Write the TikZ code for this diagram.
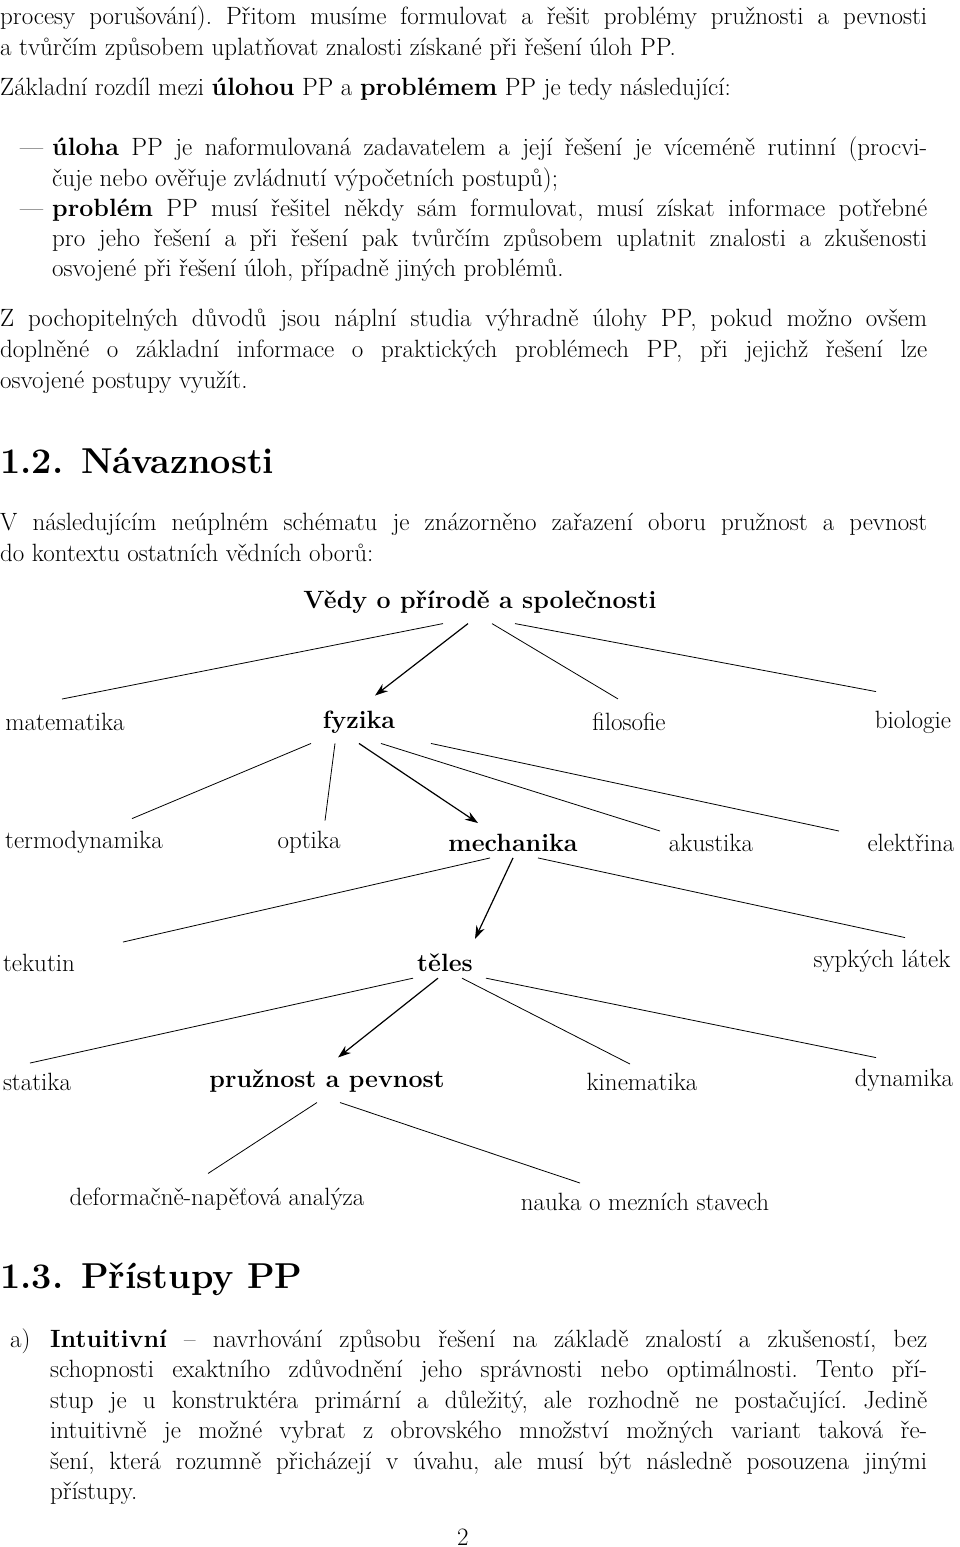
\documentclass[tikz,border=0pt]{standalone}
\usepackage{fontspec}
\usetikzlibrary{arrows.meta}
\frenchspacing
\begin{document}
\begin{tikzpicture}[x=1pt,y=-1pt]
% font and line sizes
\def\fs{\fontsize{25}{31}\selectfont}
% styles
\tikzset{
	line/.style = {anchor=base west, inner sep=0pt, font=\fs},
	obor/.style = {inner sep=2pt, font=\fs},
	hlavni/.style = {obor, font=\fs\bfseries},
	vazba/.style = {line width=0.8pt},
	cesta/.style = {line width=1.2pt, -{Stealth[length=13pt,width=9pt]}}
}
% justified line and plain line
\newcommand{\jl}[5]{\node[line] (#1) at (#2,#3) {\makebox[#4pt][s]{#5}};}
\newcommand{\pl}[4]{\node[line] (#1) at (#2,#3) {#4};}
\useasboundingbox (0,0) rectangle (960,1547);

\jl{t1}{0}{24}{927}{procesy porušování). Přitom musíme formulovat a řešit problémy pružnosti a pevnosti}
\pl{t2}{0}{55}{a tvůrčím způsobem uplatňovat znalosti získané při řešení úloh PP.}
\pl{t3}{0}{95}{Základní rozdíl mezi \textbf{úlohou} PP a \textbf{problémem} PP je tedy následující:}
\pl{d1}{20}{155}{---}
\jl{b1}{52}{155}{875}{\textbf{úloha} PP je naformulovaná zadavatelem a její řešení je víceméně rutinní (procvi-}
\pl{b2}{52}{186}{čuje nebo ověřuje zvládnutí výpočetních postupů);}
\pl{d2}{20}{216}{---}
\jl{b3}{52}{216}{875}{\textbf{problém} PP musí řešitel někdy sám formulovat, musí získat informace potřebné}
\jl{b4}{52}{246}{875}{pro jeho řešení a při řešení pak tvůrčím způsobem uplatnit znalosti a zkušenosti}
\pl{b5}{52}{276}{osvojené při řešení úloh, případně jiných problémů.}
\jl{p1}{0}{326}{927}{Z pochopitelných důvodů jsou náplní studia výhradně úlohy PP, pokud možno ovšem}
\jl{p2}{0}{357}{927}{doplněné o základní informace o praktických problémech PP, při jejichž řešení lze}
\pl{p3}{0}{388}{osvojené postupy využít.}
\node[line,font=\fontsize{36}{40}\selectfont\bfseries] (h12) at (0,473) {1.2.\enspace Návaznosti};
\jl{v1}{0}{530}{927}{V následujícím neúplném schématu je znázorněno zařazení oboru pružnost a pevnost}
\pl{v2}{0}{561}{do kontextu ostatních vědních oborů:}

% schema
\node[hlavni] (vedy) at (480,602) {Vědy o přírodě a společnosti};
\node[obor] (mat) at (65,722) {matematika};
\node[hlavni] (fyz) at (359,722) {fyzika};
\node[obor] (fil) at (629,722) {filosofie};
\node[obor] (bio) at (913,722) {biologie};
\node[obor] (ter) at (84,842) {termodynamika};
\node[obor] (opt) at (309,842) {optika};
\node[hlavni] (mech) at (513,843) {mechanika};
\node[obor] (aku) at (711,843) {akustika};
\node[obor] (ele) at (911,843) {elektřina};
\node[obor] (tek) at (39,963) {tekutin};
\node[hlavni] (tel) at (445,963) {těles};
\node[obor] (syp) at (882,961) {sypkých látek};
\node[obor] (sta) at (37,1082) {statika};
\node[hlavni] (pp) at (327,1081) {pružnost a pevnost};
\node[obor] (kin) at (642,1082) {kinematika};
\node[obor] (dyn) at (904,1080) {dynamika};
\node[obor] (def) at (217,1199) {deformačně-napěťová analýza};
\node[obor] (nau) at (645,1202) {nauka o mezních stavech};

\draw[vazba] ([xshift=-37pt,yshift=-8pt]vedy.south) -- ([xshift=-3pt,yshift=12pt]mat.north);
\draw[cesta] ([xshift=-12pt,yshift=-8pt]vedy.south) -- ([xshift=16pt,yshift=13pt]fyz.north);
\draw[vazba] ([xshift=12pt,yshift=-8pt]vedy.south) -- ([xshift=-11pt,yshift=12pt]fil.north);
\draw[vazba] ([xshift=35pt,yshift=-8pt]vedy.south) -- ([xshift=-37pt,yshift=17pt]bio.north);

\draw[vazba] ([xshift=-48pt,yshift=-8pt]fyz.south) -- ([xshift=48pt,yshift=10pt]ter.north);
\draw[vazba] ([xshift=-24pt,yshift=-8pt]fyz.south) -- ([xshift=16pt,yshift=8pt]opt.north);
\draw[cesta] ([xshift=0pt,yshift=-8pt]fyz.south) -- ([xshift=-35pt,yshift=9pt]mech.north);
\draw[vazba] ([xshift=22pt,yshift=-8pt]fyz.south) -- ([xshift=-51pt,yshift=1pt]aku.north);
\draw[vazba] ([xshift=72pt,yshift=-8pt]fyz.south) -- ([xshift=-72pt,yshift=1pt]ele.north);

\draw[vazba] ([xshift=-23pt,yshift=-4pt]mech.south) -- ([xshift=84pt,yshift=10pt]tek.north);
\draw[cesta] ([xshift=0pt,yshift=-4pt]mech.south) -- ([xshift=30pt,yshift=13pt]tel.north);
\draw[vazba] ([xshift=25pt,yshift=-4pt]mech.south) -- ([xshift=23pt,yshift=10pt]syp.north);

\draw[vazba] ([xshift=-32pt,yshift=-4pt]tel.south) -- ([xshift=-7pt,yshift=8pt]sta.north);
\draw[cesta] ([xshift=-7pt,yshift=-4pt]tel.south) -- ([xshift=11pt,yshift=10pt]pp.north);
\draw[vazba] ([xshift=17pt,yshift=-4pt]tel.south) -- ([xshift=-12pt,yshift=7pt]kin.north);
\draw[vazba] ([xshift=41pt,yshift=-4pt]tel.south) -- ([xshift=-28pt,yshift=9pt]dyn.north);

\draw[vazba] ([xshift=-10pt,yshift=-8pt]pp.south) -- ([xshift=-9pt,yshift=12pt]def.north);
\draw[vazba] ([xshift=13pt,yshift=-8pt]pp.south) -- ([xshift=-65pt,yshift=8pt]nau.north);

\node[line,font=\fontsize{36}{40}\selectfont\bfseries] (h13) at (0,1288) {1.3.\enspace Přístupy PP};
\pl{a0}{10}{1347}{a)}
\jl{a1}{50}{1347}{877}{\textbf{Intuitivní} -- navrhování způsobu řešení na základě znalostí a zkušeností, bez}
\jl{a2}{50}{1377}{877}{schopnosti exaktního zdůvodnění jeho správnosti nebo optimálnosti. Tento pří-}
\jl{a3}{50}{1408}{877}{stup je u konstruktéra primární a důležitý, ale rozhodně ne postačující. Jedině}
\jl{a4}{50}{1438}{877}{intuitivně je možné vybrat z obrovského množství možných variant taková ře-}
\jl{a5}{50}{1469}{877}{šení, která rozumně přicházejí v úvahu, ale musí být následně posouzena jinými}
\pl{a6}{50}{1499}{přístupy.}
\pl{str}{457}{1545}{2}
\end{tikzpicture}
\end{document}
